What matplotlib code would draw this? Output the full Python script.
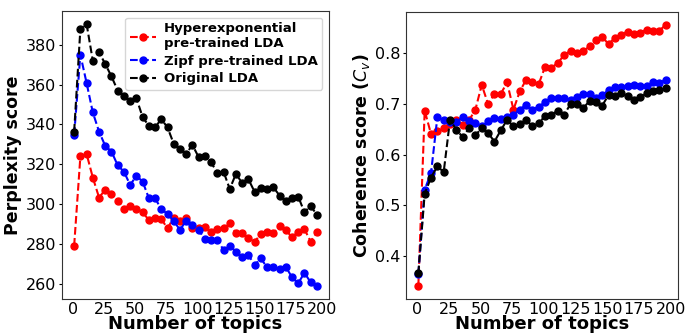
import matplotlib
matplotlib.use("Agg")
import matplotlib.pyplot as plt

topics = list(range(1, 200, 5))

perp_hyper = [279.1, 323.9, 325.2, 313.3, 303.3, 307.2, 305.2, 301.6, 297.6, 298.8,
              297.6, 295.9, 292.0, 292.9, 292.5, 287.8, 293.2, 291.6, 293.2, 287.9,
              287.8, 288.3, 286.1, 287.3, 288.1, 290.3, 285.3, 285.3, 283.2, 281.2,
              284.8, 286.1, 285.3, 289.0, 287.0, 283.3, 286.1, 287.4, 281.2, 285.8]
perp_zipf = [334.8, 375.0, 360.8, 346.0, 336.4, 329.2, 326.4, 319.4, 316.3, 309.6,
             314.2, 311.3, 303.0, 303.0, 297.4, 295.1, 291.6, 287.0, 291.7, 289.4,
             287.0, 282.5, 282.0, 282.0, 277.0, 279.1, 276.1, 273.3, 274.4, 269.4,
             272.7, 268.2, 268.2, 267.4, 268.6, 263.2, 260.2, 265.5, 260.7, 258.9]
perp_orig = [336.4, 387.9, 390.4, 372.0, 376.3, 370.3, 364.1, 357.0, 354.4, 351.9,
             353.2, 343.7, 339.3, 338.5, 342.7, 338.5, 330.3, 327.7, 325.2, 329.7,
             323.6, 324.2, 320.9, 315.8, 316.3, 307.6, 315.2, 310.5, 312.5, 306.1,
             308.0, 307.6, 308.5, 304.3, 301.3, 303.3, 303.8, 295.9, 299.1, 294.6]

coh_hyper = [0.341, 0.687, 0.641, 0.646, 0.652, 0.661, 0.668, 0.659, 0.668, 0.689,
             0.738, 0.700, 0.720, 0.720, 0.743, 0.689, 0.725, 0.748, 0.743, 0.740,
             0.774, 0.772, 0.781, 0.797, 0.805, 0.801, 0.804, 0.814, 0.826, 0.833,
             0.818, 0.831, 0.837, 0.843, 0.838, 0.841, 0.847, 0.845, 0.845, 0.856]
coh_zipf = [0.365, 0.531, 0.564, 0.674, 0.668, 0.664, 0.664, 0.675, 0.666, 0.663,
            0.656, 0.666, 0.673, 0.671, 0.674, 0.679, 0.689, 0.699, 0.689, 0.695,
            0.704, 0.711, 0.712, 0.711, 0.709, 0.713, 0.719, 0.720, 0.711, 0.717,
            0.728, 0.733, 0.734, 0.735, 0.738, 0.735, 0.736, 0.744, 0.742, 0.748]
coh_orig = [0.366, 0.523, 0.555, 0.577, 0.566, 0.669, 0.649, 0.635, 0.652, 0.639,
            0.652, 0.643, 0.626, 0.648, 0.669, 0.656, 0.660, 0.669, 0.656, 0.662,
            0.677, 0.679, 0.687, 0.679, 0.700, 0.700, 0.692, 0.706, 0.705, 0.697,
            0.718, 0.715, 0.722, 0.715, 0.708, 0.713, 0.722, 0.725, 0.728, 0.731]

labels = ["Hyperexponential\npre-trained LDA", "Zipf pre-trained LDA", "Original LDA"]
colors = ["red", "blue", "black"]

fig = plt.figure(figsize=(6.86, 3.33), dpi=100)
ax1 = fig.add_axes([0.0904, 0.1021, 0.3892, 0.8649])
ax2 = fig.add_axes([0.5918, 0.1021, 0.3965, 0.8619])

for ys, lab, c in zip([perp_hyper, perp_zipf, perp_orig], labels, colors):
    ax1.plot(topics, ys, linestyle="--", marker="o", color=c, markersize=5,
             linewidth=1.5, label=lab)
for ys, lab, c in zip([coh_hyper, coh_zipf, coh_orig], labels, colors):
    ax2.plot(topics, ys, linestyle="--", marker="o", color=c, markersize=5,
             linewidth=1.5, label=lab)

for ax in (ax1, ax2):
    ax.set_xticks([0, 25, 50, 75, 100, 125, 150, 175, 200])
    ax.tick_params(labelsize=11.5)
    ax.tick_params(axis="x", length=0, pad=2)
    ax.tick_params(axis="y", length=2, pad=2)
    for s in ax.spines.values():
        s.set_color("#333333")
    ax.set_xlabel("Number of topics", fontsize=13, fontweight="bold", labelpad=-1)

ax1.set_ylabel("Perplexity score", fontsize=12.5, fontweight="bold", labelpad=3)
ax2.set_ylabel(r"Coherence score ($C_v$)", fontsize=12.5, fontweight="bold", labelpad=2)

ax1.legend(loc="upper right", prop={"weight": "bold", "size": 9.5},
           labelspacing=0.35, handlelength=2.0, handletextpad=0.6,
           borderaxespad=0.5, borderpad=0.35)

fig.savefig("out.png", dpi=100)
